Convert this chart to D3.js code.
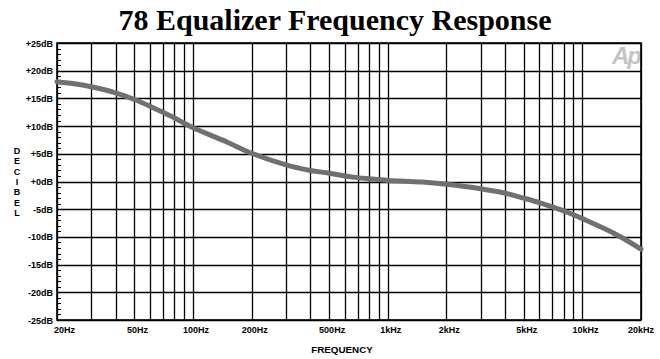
<!DOCTYPE html>
<html>
<head>
<meta charset="utf-8">
<script src="https://cdn.jsdelivr.net/npm/d3@7"></script>
<style>
  body { margin: 0; background: #fff; }
  svg { display: block; }
</style>
</head>
<body>
<div id="chart"></div>
<script>
// Response curve (Hz, dB)
var freqs = [20, 25, 30, 40, 50, 60, 70, 80, 90, 100, 150, 200, 300, 400, 500, 600, 700, 800, 1000,
	1500, 2000, 3000, 4000, 5000, 6000, 7000, 8000, 9000, 10000, 15000, 20000];
var levels = [18.0, 17.6, 17.1, 16.0, 14.8, 13.6, 12.5, 11.5, 10.5, 9.7, 7.1, 5.1, 3.0, 2.0, 1.5, 1.0, 0.7, 0.5, 0.2,
	-0.1, -0.5, -1.3, -2.1, -3.0, -3.8, -4.6, -5.3, -6.0, -6.7, -9.6, -12.2];
// Grid lines and labels
var freqGrid = [20, 30, 40, 50, 60, 70, 80, 90, 100, 200, 300, 400, 500, 600, 700, 800, 900,
	1000, 2000, 3000, 4000, 5000, 6000, 7000, 8000, 9000, 10000, 20000];
var freqTicks = [20, 50, 100, 200, 500, 1000, 2000, 5000, 10000, 20000];
var freqLabels = ["20Hz", "50Hz", "100Hz", "200Hz", "500Hz", "1kHz", "2kHz", "5kHz", "10kHz", "20kHz"];
var dbTicks = [25, 20, 15, 10, 5, 0, -5, -10, -15, -20, -25];
var dbLabels = ["+25dB", "+20dB", "+15dB", "+10dB", "+5dB", "+0dB", "-5dB", "-10dB", "-15dB", "-20dB", "-25dB"];

var W = 660, H = 359;
var plot = { left: 57, right: 641, top: 43, bottom: 320 };
var labelFont = "Arial, 'Liberation Sans', sans-serif";

var svg = d3.select("#chart").append("svg")
	.attr("width", W)
	.attr("height", H);

var x = d3.scaleLog().domain([20, 20000]).range([plot.left, plot.right]);
var y = d3.scaleLinear().domain([-25, 25]).range([plot.bottom, plot.top]);

// Title
svg.append("text")
	.attr("x", 335)
	.attr("y", 30)
	.attr("text-anchor", "middle")
	.attr("font-family", "'Times New Roman', 'Liberation Serif', serif")
	.attr("font-weight", "bold")
	.attr("font-size", 30)
	.text("78 Equalizer Frequency Response");

// "Ap" watermark
svg.append("text")
	.attr("x", 640)
	.attr("y", 64)
	.attr("text-anchor", "end")
	.attr("font-family", labelFont)
	.attr("font-weight", "bold")
	.attr("font-style", "italic")
	.attr("font-size", 24)
	.attr("letter-spacing", "-2px")
	.attr("fill", "#c4c4c4")
	.text("Ap");

// Vertical grid
svg.append("g").selectAll("line")
	.data(freqGrid)
	.enter()
	.append("line")
	.attr("x1", function(d) { return Math.round(x(d)) + 0.5; })
	.attr("x2", function(d) { return Math.round(x(d)) + 0.5; })
	.attr("y1", plot.top)
	.attr("y2", plot.bottom)
	.attr("stroke", "#000")
	.attr("stroke-width", 1.3);

// Horizontal grid
svg.append("g").selectAll("line")
	.data(dbTicks)
	.enter()
	.append("line")
	.attr("x1", plot.left)
	.attr("x2", plot.right)
	.attr("y1", function(d) { return Math.round(y(d)) + 0.5; })
	.attr("y2", function(d) { return Math.round(y(d)) + 0.5; })
	.attr("stroke", "#000")
	.attr("stroke-width", 1.3);

// Minor ticks every 1 dB on the left edge
svg.append("g").selectAll("line")
	.data(d3.range(-25, 26))
	.enter()
	.append("line")
	.attr("x1", plot.left)
	.attr("x2", plot.left + 4)
	.attr("y1", function(d) { return Math.round(y(d)) + 0.5; })
	.attr("y2", function(d) { return Math.round(y(d)) + 0.5; })
	.attr("stroke", "#000")
	.attr("stroke-width", 1);

// Frame
svg.append("rect")
	.attr("x", plot.left)
	.attr("y", plot.top)
	.attr("width", plot.right - plot.left)
	.attr("height", plot.bottom - plot.top)
	.attr("fill", "none")
	.attr("stroke", "#000")
	.attr("stroke-width", 1.6);

// Curve
var line = d3.line()
	.x(function(d) { return x(d[0]); })
	.y(function(d) { return y(d[1]); })
	.curve(d3.curveCatmullRom.alpha(0.5));

svg.append("path")
	.datum(d3.zip(freqs, levels))
	.attr("d", line)
	.attr("fill", "none")
	.attr("stroke", "#707070")
	.attr("stroke-width", 5)
	.attr("stroke-linecap", "round")
	.attr("stroke-linejoin", "round");

// Y labels
svg.append("g").selectAll("text")
	.data(dbTicks)
	.enter()
	.append("text")
	.attr("x", plot.left - 4)
	.attr("y", function(d) { return y(d) + 3.5; })
	.attr("text-anchor", "end")
	.attr("font-family", labelFont)
	.attr("font-weight", "bold")
	.attr("font-size", 9)
	.text(function(d, i) { return dbLabels[i]; });

// X labels
svg.append("g").selectAll("text")
	.data(freqTicks)
	.enter()
	.append("text")
	.attr("x", function(d, i) {
		if (i == 0) return plot.left - 3;
		if (i == freqTicks.length - 1) return x(d);
		return x(d) + 3;
	})
	.attr("y", 333)
	.attr("text-anchor", function(d, i) { return i == 0 ? "start" : "middle"; })
	.attr("font-family", labelFont)
	.attr("font-weight", "bold")
	.attr("font-size", 9)
	.text(function(d, i) { return freqLabels[i]; });

// Axis titles
svg.append("text")
	.attr("x", 342)
	.attr("y", 353)
	.attr("text-anchor", "middle")
	.attr("font-family", labelFont)
	.attr("font-weight", "bold")
	.attr("font-size", 9.8)
	.text("FREQUENCY");

svg.append("g").selectAll("text")
	.data("DECIBEL".split(""))
	.enter()
	.append("text")
	.attr("x", 17)
	.attr("y", function(d, i) { return 154 + i * 10.3; })
	.attr("text-anchor", "middle")
	.attr("font-family", labelFont)
	.attr("font-weight", "bold")
	.attr("font-size", 9)
	.text(function(d) { return d; });
</script>
</body>
</html>
